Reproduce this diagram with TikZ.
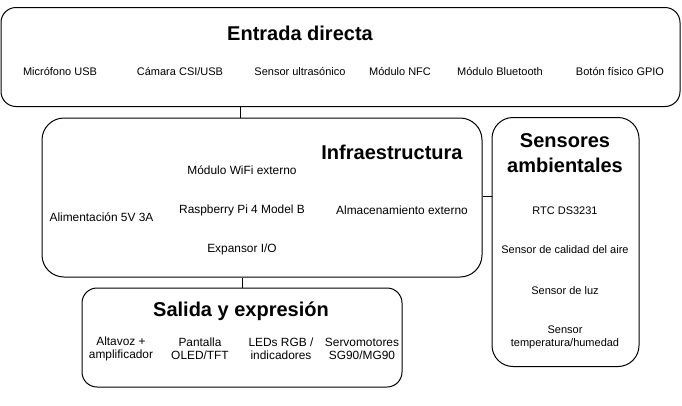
\documentclass[tikz,border=0pt]{standalone}
\usepackage{fontspec}
\setmainfont{Liberation Sans}
\begin{document}
\begin{tikzpicture}[x=1pt,y=-1pt,
  box/.style={draw=black, line width=1pt, rounded corners=#1, inner sep=0pt, fill=white},
  box/.default=15pt,
  ttl/.style={font=\fontsize{20}{22}\selectfont\bfseries, align=center, inner sep=0pt},
  itm/.style={font=\fontsize{11}{13}\selectfont, align=center, inner sep=0pt},
  itmb/.style={font=\fontsize{11.9}{13.2}\selectfont, align=center, inner sep=0pt},
  conn/.style={draw=black, line width=1pt}]
\useasboundingbox (0,0) rectangle (682,405);
% boxes
\node[box=15pt, minimum width=679pt, minimum height=99pt] (ent) at (340.5,57) {};
\node[box=22pt, minimum width=440pt, minimum height=159pt] (infra) at (262,197.5) {};
\node[box=21pt, minimum width=147pt, minimum height=249pt] (sens) at (565.5,242) {};
\node[box=15pt, minimum width=320pt, minimum height=99pt] (sal) at (242,337.5) {};
% connector anchors
\coordinate (c1) at (240,0);
\coordinate (c2) at (242,0);
\coordinate (c3) at (0,196);
\draw[conn] (ent.south -| c1) -- (infra.north -| c1);
\draw[conn] (infra.south -| c2) -- (sal.north -| c2);
\draw[conn] (infra.east |- c3) -- (sens.west |- c3);
% Entrada directa
\node[ttl] (t1) at (300,33) {Entrada directa};
\node[itm] (e1) at (60,71) {Micrófono USB};
\node[itm] (e2) at (180,71) {Cámara CSI/USB};
\node[itm] (e3) at (300,71) {Sensor ultrasónico};
\node[itm] (e4) at (400,71) {Módulo NFC};
\node[itm] (e5) at (500,71) {Módulo Bluetooth};
\node[itm] (e6) at (620,71) {Botón físico GPIO};
% Infraestructura
\node[ttl] (t2) at (392,152) {Infraestructura};
\node[itmb] (i1) at (242,170) {Módulo WiFi externo};
\node[itmb] (i2) at (101.5,217) {Alimentación 5V 3A};
\node[itmb] (i3) at (242,210) {Raspberry Pi 4 Model B};
\node[itmb] (i4) at (402,210) {Almacenamiento externo};
\node[itmb] (i5) at (242,249) {Expansor I/O};
% Sensores
\node[ttl, font=\fontsize{20}{25}\selectfont\bfseries] (t3) at (565,153.5) {Sensores\\ambientales};
\node[itm] (s1) at (565,211) {RTC DS3231};
\node[itm] (s2) at (565,250) {Sensor de calidad del aire};
\node[itm] (s3) at (565,291) {Sensor de luz};
\node[itm] (s4) at (565,337) {Sensor\\temperatura/humedad};
% Salida
\node[ttl] (t4) at (241,311) {Salida y expresión};
\node[itmb] (o1) at (121,349) {Altavoz +\\amplificador};
\node[itmb] (o2) at (200,349) {Pantalla\\OLED/TFT};
\node[itmb] (o3) at (281,349) {LEDs RGB /\\indicadores};
\node[itmb] (o4) at (362,349) {Servomotores\\SG90/MG90};
\end{tikzpicture}
\end{document}
